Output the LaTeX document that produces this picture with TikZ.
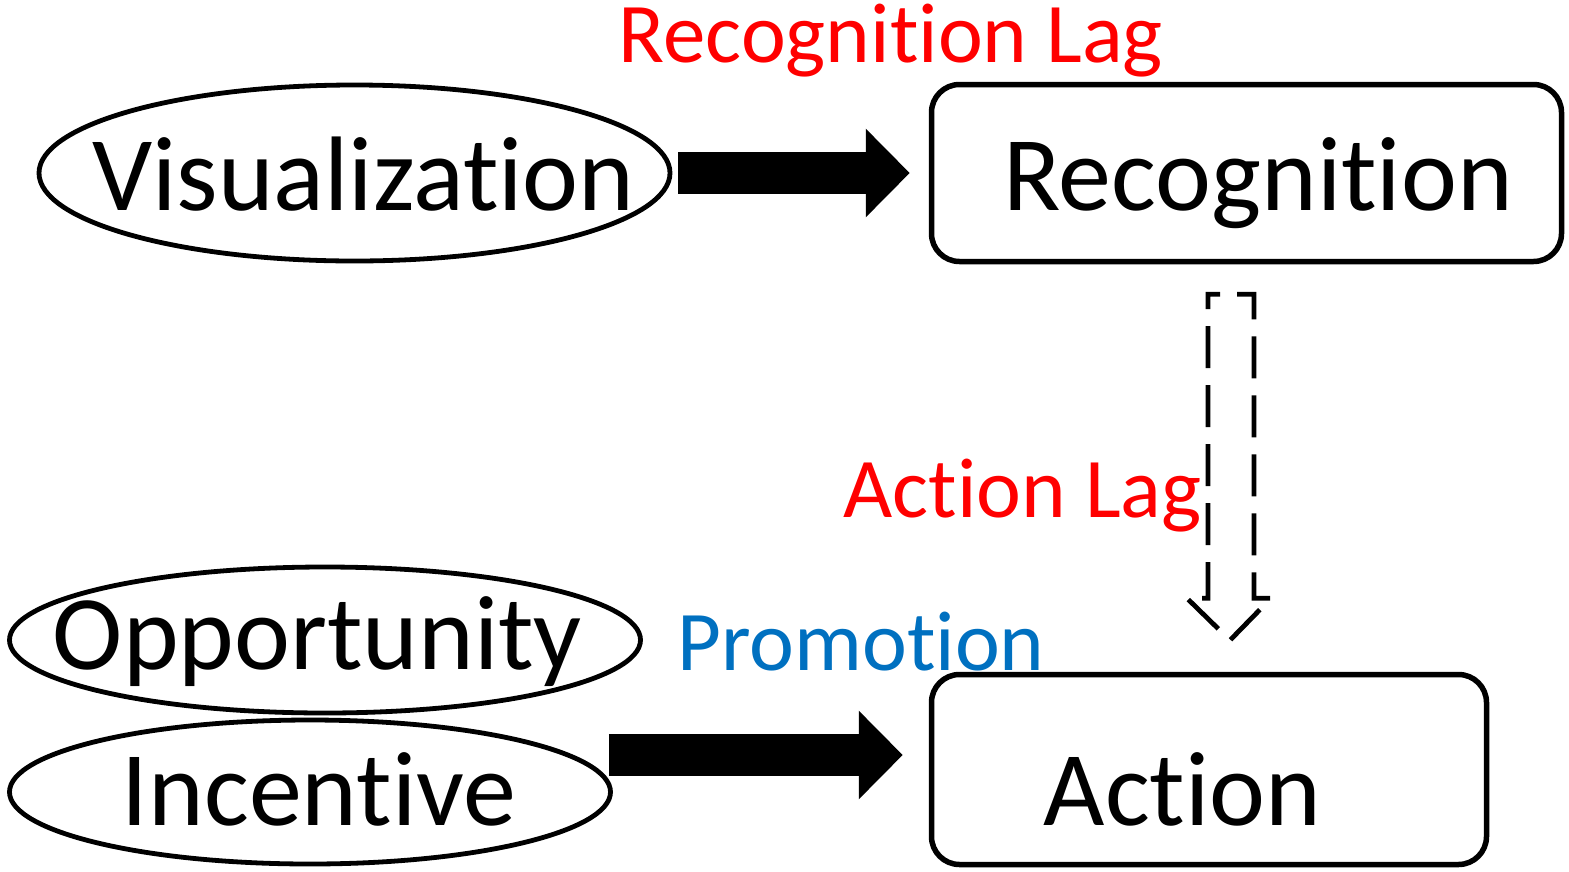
\documentclass[tikz,border=0pt]{standalone}
\usepackage{fontspec}
\setmainfont{Carlito}[Ligatures={NoCommon,NoRequired,NoContextual}]
\usetikzlibrary{shapes.geometric,arrows.meta,calc}
\definecolor{lagred}{RGB}{255,0,0}
\definecolor{promoblue}{RGB}{0,112,192}
\tikzset{
  oval/.style={ellipse, draw, line width=4.8pt, inner sep=0pt},
  stagebox/.style={rectangle, draw, line width=5.5pt, rounded corners=28pt, inner sep=0pt},
  bigtext/.style={inner sep=0pt, anchor=base, font=\fontsize{106}{110}\selectfont},
  lagtext/.style={inner sep=0pt, anchor=base, font=\fontsize{85}{90}\selectfont, text=lagred},
  promotext/.style={inner sep=0pt, anchor=base, font=\fontsize{85}{90}\selectfont, text=promoblue},
  blockarrow/.style={line width=42pt, line cap=butt, -{Triangle[length=44pt,width=86pt]}},
  hollowarrow/.style={line width=4.8pt, dash pattern=on 42pt off 17pt, line join=miter, line cap=butt}
}
\begin{document}
\begin{tikzpicture}[x=1pt,y=-1pt]
\useasboundingbox (0,0) rectangle (1569,871);

% stages and drivers
\node[oval, minimum width=631pt, minimum height=176pt] (vis) at (354.5,173) {};
\node[stagebox, minimum width=630pt, minimum height=177pt] (rec) at (1246.5,173) {};
\node[oval, minimum width=631pt, minimum height=146pt] (opp) at (325,640) {};
\node[oval, minimum width=601pt, minimum height=144pt] (inc) at (310,792) {};
\node[stagebox, minimum width=555pt, minimum height=190pt] (act) at (1209,769.5) {};

% labels
\node[bigtext] (vistxt) at (363.5,210) {Visualization};
\node[bigtext] (rectxt) at (1258,210) {Recognition};
\node[bigtext] (opptxt) at (317.5,669) {Opportunity};
\node[bigtext] (inctxt) at (319,825) {Incentive};
\node[bigtext] (acttxt) at (1182.5,825) {Action};
\node[lagtext] (reclag) at (891,62) {Recognition Lag};
\node[lagtext] (actlag) at (1022.5,517) {Action Lag};
\node[promotext] (promo) at (861,670) {Promotion};

% solid block arrows
\draw[blockarrow] ([xshift=6pt]vis.east) -- ([xshift=-19pt]rec.west);
\draw[blockarrow] ([xshift=-4pt,yshift=37pt]inc.east) -- ([xshift=-26pt,yshift=14.5pt]act.west);

% dashed hollow arrow from recognition down to action, open at the top middle
\coordinate (dtop) at ([xshift=-9.5pt,yshift=-30pt]rec.south);
\draw[hollowarrow] (dtop) -- ++(17,0) -- ++(0,304) -- ++(17,0) -- ++(-41,42)
  -- ++(-43,-42) -- ++(21,0) -- ++(0,-304) -- ++(12,0);
\end{tikzpicture}
\end{document}
